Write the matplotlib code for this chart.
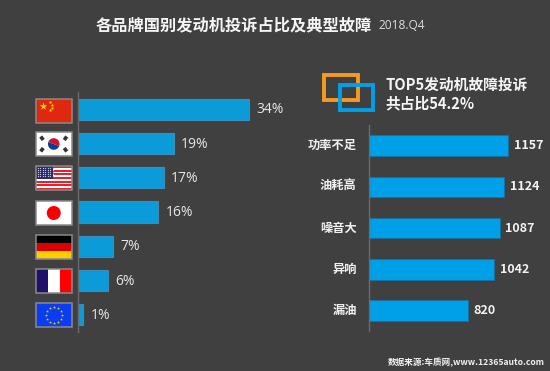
import numpy as np
import matplotlib
matplotlib.use('Agg')
import matplotlib.pyplot as plt
from matplotlib.patches import Rectangle, Circle, Wedge

plt.rcParams['font.family'] = ['Noto Sans CJK SC', 'DejaVu Sans']

countries = ['cn', 'kr', 'us', 'jp', 'de', 'fr', 'eu']
share = [34, 19, 17, 16, 7, 6, 1]
faults = ['功率不足', '油耗高', '噪音大', '异响', '漏油']
counts = [1157, 1124, 1087, 1042, 820]
flag_tops = [99, 132, 166, 201, 235, 269, 303]

W, H = 550, 371
BG = '#404040'
fig = plt.figure(figsize=(W / 100, H / 100), dpi=100, facecolor=BG)


def make_axes(left, top, right, bottom):
    ax = fig.add_axes([left / W, 1 - bottom / H, (right - left) / W, (bottom - top) / H])
    ax.set_facecolor('none')
    for s in ['top', 'right', 'bottom']:
        ax.spines[s].set_visible(False)
    ax.spines['left'].set_color('#6a6a6a')
    ax.spines['left'].set_linewidth(1)
    ax.set_xticks([])
    ax.set_yticks([])
    return ax


# left chart, share by country
ax1 = make_axes(78, 92, 300, 332)
ax1.barh(range(len(share)), share, height=0.62, color='#0a9bd8', edgecolor='#3d8cbc', linewidth=0.8)
ax1.set_xlim(0, 222 / 5.03)
ax1.set_ylim(len(share) - 0.5, -0.5)
for i, v in enumerate(share):
    ax1.text(v + 1.45, i + 0.02, f'{v}%', color='#e6e6e6', fontsize=10, va='center', ha='left', family='Open Sans')

# right chart, top 5 faults
ax2 = make_axes(369, 125, 545, 331)
ax2.barh(range(len(counts)), counts, height=0.5, color='#00a0e9', edgecolor='#1a6f9e', linewidth=0.6)
ax2.set_xlim(0, 176 / 0.1204)
ax2.set_ylim(len(counts) - 0.5, -0.5)
for i, v in enumerate(counts):
    ax2.text(v + 45, i, str(v), color='#f2f2f2', fontsize=9, fontweight='bold', va='center', ha='left')
    ax2.text(-102, i, faults[i], color='#f0f0f0', fontsize=8.8, fontweight='bold', va='center', ha='right')

# overlay in pixel coords for flags, icon and titles
ov = fig.add_axes([0, 0, 1, 1], zorder=5)
ov.set_xlim(0, W)
ov.set_ylim(H, 0)
ov.axis('off')


def rect(x, y, w, h, c, z=6):
    ov.add_patch(Rectangle((x, y), w, h, facecolor=c, edgecolor='none', zorder=z))


def flag(code, y):
    x, w, h = 36, 35.5, 24
    if code == 'cn':
        rect(x, y, w, h, '#de2910')
        ov.scatter([x + 6.5], [y + 6.5], marker='*', s=32, color='#ffde00', linewidths=0, zorder=7)
        ov.scatter([x + 13.5, x + 15.5, x + 15.5, x + 13.5], [y + 3, y + 5.5, y + 8.5, y + 11],
                   marker='*', s=7, color='#ffde00', linewidths=0, zorder=7)
    elif code == 'kr':
        rect(x, y, w, h, 'white')
        cx, cy = x + w / 2, y + h / 2
        ov.add_patch(Wedge((cx, cy), 5.8, 200, 20, facecolor='#d21034', zorder=7))
        ov.add_patch(Wedge((cx, cy), 5.8, 20, 200, facecolor='#0f3c8c', zorder=7))
        for dx, dy in [(-1, -1), (1, -1), (-1, 1), (1, 1)]:
            ov.plot([cx + dx * 10.5, cx + dx * 13], [cy + dy * 4, cy + dy * 7.5], color='#333333', lw=2.6,
                    solid_capstyle='butt', zorder=7)
    elif code == 'us':
        rect(x, y, w, h, 'white')
        for k in range(0, 13, 2):
            rect(x, y + k * h / 13, w, h / 13, '#e8202a', 7)
        rect(x, y, 17, 12.5, '#2a2a6e', 8)
        sx, sy = np.meshgrid(np.arange(x + 1.5, x + 17, 2.5), np.arange(y + 1.5, y + 12.5, 2.2))
        ov.scatter(sx.ravel(), sy.ravel(), s=0.8, color='#c8c8e8', linewidths=0, zorder=9)
    elif code == 'jp':
        rect(x, y, w, h, 'white')
        ov.add_patch(Circle((x + w / 2, y + h / 2), 7, facecolor='#f80000', zorder=7))
    elif code == 'de':
        rect(x, y, w, h / 3, '#000000')
        rect(x, y + h / 3, w, h / 3, '#dd0000')
        rect(x, y + 2 * h / 3, w, h / 3, '#ffce00')
    elif code == 'fr':
        rect(x, y, w / 3, h, '#21106a')
        rect(x + w / 3, y, w / 3, h, 'white')
        rect(x + 2 * w / 3, y, w / 3, h, '#ff0000')
    elif code == 'eu':
        rect(x, y, w, h, '#0a3cf0')
        a = np.arange(12) * np.pi / 6
        ov.scatter(x + w / 2 + 8 * np.cos(a), y + h / 2 + 8 * np.sin(a), marker='*', s=5, color='#ffd400',
                   linewidths=0, zorder=7)
    # grey frame round the flag
    ov.add_patch(Rectangle((x, y), w, h, facecolor='none', edgecolor='#8a8a8a', linewidth=1.1, zorder=10))


for code, top in zip(countries, flag_tops):
    flag(code, top)

# the two overlapping squares
ov.add_patch(Rectangle((324, 75), 34, 25, facecolor='none', edgecolor='#f59a23', linewidth=2.8, zorder=6))
ov.add_patch(Rectangle((339.5, 85), 33.5, 25, facecolor='none', edgecolor='#00a0e9', linewidth=2.8, zorder=7))

ov.text(96, 25, '各品牌国别发动机投诉占比及典型故障', color='#f5f5f5', fontsize=11.7, fontweight='bold',
        va='center', ha='left')
ov.text(378, 25.5, '2018.Q4', color='#dddddd', fontsize=8.6, va='center', ha='left', family='Open Sans')
ov.text(385, 85, 'TOP5发动机故障投诉', color='#f5f5f5', fontsize=10.6, fontweight='bold', va='center', ha='left')
ov.text(385, 103, '共占比54.2%', color='#f5f5f5', fontsize=10.6, fontweight='bold', va='center', ha='left')
ov.text(388, 362.5, '数据来源:车质网,www.12365auto.com', color='#f0f0f0', fontsize=6.2, fontweight='bold',
        va='center', ha='left')

fig.savefig('out.png', dpi=100, facecolor=BG)
